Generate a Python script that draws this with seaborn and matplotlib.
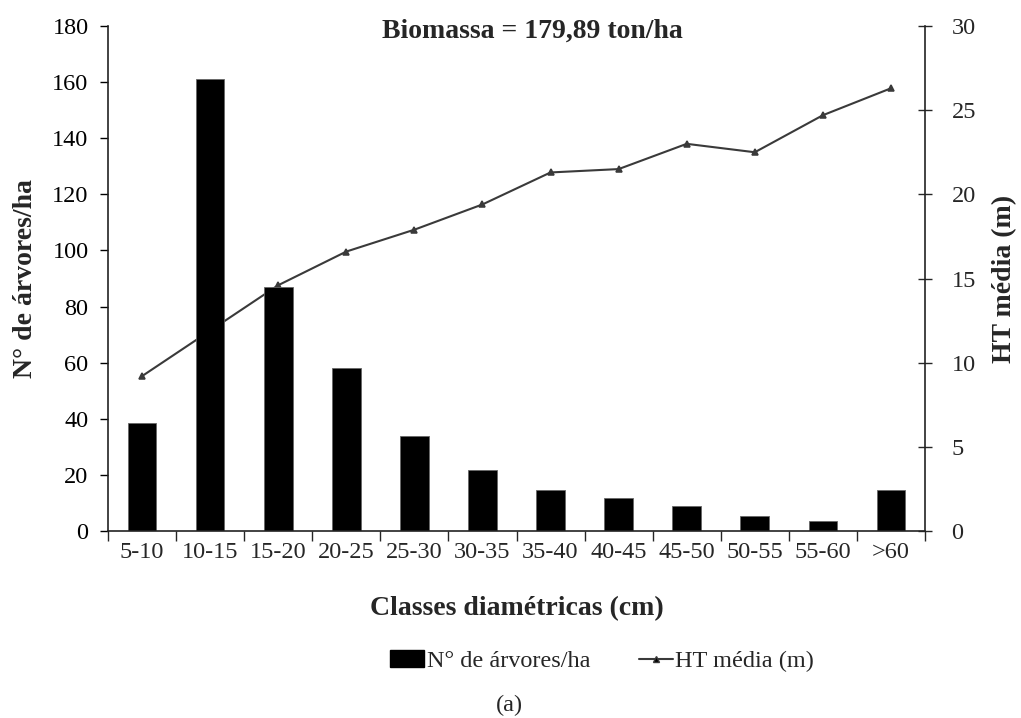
import numpy as np
import pandas as pd
import matplotlib
matplotlib.use("Agg")
import matplotlib.pyplot as plt
import seaborn as sns
from matplotlib.patches import Patch
from matplotlib.lines import Line2D

classes = ["5-10", "10-15", "15-20", "20-25", "25-30", "30-35", "35-40",
           "40-45", "45-50", "50-55", "55-60", ">60"]
n_arvores = [38.5, 161, 87, 58, 34, 21.7, 14.6, 11.8, 8.9, 5.3, 3.6, 14.6]
ht_media = [9.2, 11.9, 14.6, 16.6, 17.9, 19.4, 21.3, 21.5, 23.0, 22.5, 24.7, 26.3]
left_ticks = list(range(0, 181, 20))
right_ticks = list(range(0, 31, 5))

df = pd.DataFrame({"classe": classes, "n": n_arvores, "ht": ht_media})

sns.set_theme(style="white")
plt.rcParams["font.family"] = ["Liberation Serif", "DejaVu Serif"]

fig = plt.figure(figsize=(10.21, 7.18), dpi=100)
ax = fig.add_axes([108/1021, 1-531/718, (925-108)/1021, (531-26)/718])
ax2 = ax.twinx()

sns.barplot(data=df, x="classe", y="n", ax=ax, color="black", width=0.42,
            saturation=1, edgecolor="#666666", linewidth=0.6)
sns.pointplot(data=df, x="classe", y="ht", ax=ax2, color="#3a3a3a",
              markers="^", markersize=4.5, linewidth=1.5)
for c in ax2.collections:
    c.set_facecolor("black")
    c.set_edgecolor("black")

ax.set_zorder(ax2.get_zorder() + 1)
ax.patch.set_visible(False)

ax.set_xlim(-0.5, len(classes) - 0.5)
ax.set_ylim(0, 180)
ax2.set_ylim(0, 30)
ax.set_yticks(left_ticks)
ax2.set_yticks(right_ticks)
ax.set_xticks(range(len(classes)))
ax.set_xticklabels(classes)

fs = 17.5
lfs = 20
ax.tick_params(axis="y", labelsize=fs, direction="out", length=6, width=1,
               colors="black", left=True, pad=8)
ax.tick_params(axis="x", which="major", labelsize=fs, length=0, pad=8)
ax.set_xticks(np.arange(len(classes) + 1) - 0.5, minor=True)
ax.tick_params(axis="x", which="minor", direction="out", length=7, width=1,
               bottom=True)
ax2.tick_params(axis="y", labelsize=fs, direction="inout", length=10, width=1,
                right=True, pad=14)

for a in (ax, ax2):
    for s in a.spines.values():
        s.set_visible(False)
ax.spines["left"].set_visible(True)
ax.spines["bottom"].set_visible(True)
ax2.spines["right"].set_visible(True)
for a in (ax, ax2):
    for s in a.spines.values():
        s.set_color("#222222")
        s.set_linewidth(1.2)

ax.set_xlabel("Classes diamétricas (cm)", fontsize=lfs, fontweight="bold",
              labelpad=24)
ax.set_ylabel("N° de árvores/ha", fontsize=lfs, fontweight="bold",
              labelpad=10)
ax2.set_ylabel("HT média (m)", fontsize=lfs, fontweight="bold",
               labelpad=12)
ax.text(0.52, 0.99, "Biomassa = 179,89 ton/ha", transform=ax.transAxes,
        ha="center", va="center", fontsize=lfs, fontweight="bold")

handles = [Patch(facecolor="black", edgecolor="black"),
           Line2D([0], [0], color="#3a3a3a", marker="^", markersize=4,
                  markerfacecolor="black", lw=1.5)]
fig.legend(handles, ["N° de árvores/ha", "HT média (m)"], loc="center",
           bbox_to_anchor=(602/1021, 1-661/718), ncol=2, frameon=False,
           fontsize=fs, handlelength=1.4, handletextpad=0.1, columnspacing=2.0)
fig.text(509/1021, 1-705/718, "(a)", ha="center", va="center", fontsize=fs)

fig.savefig("out.png", dpi=100)
